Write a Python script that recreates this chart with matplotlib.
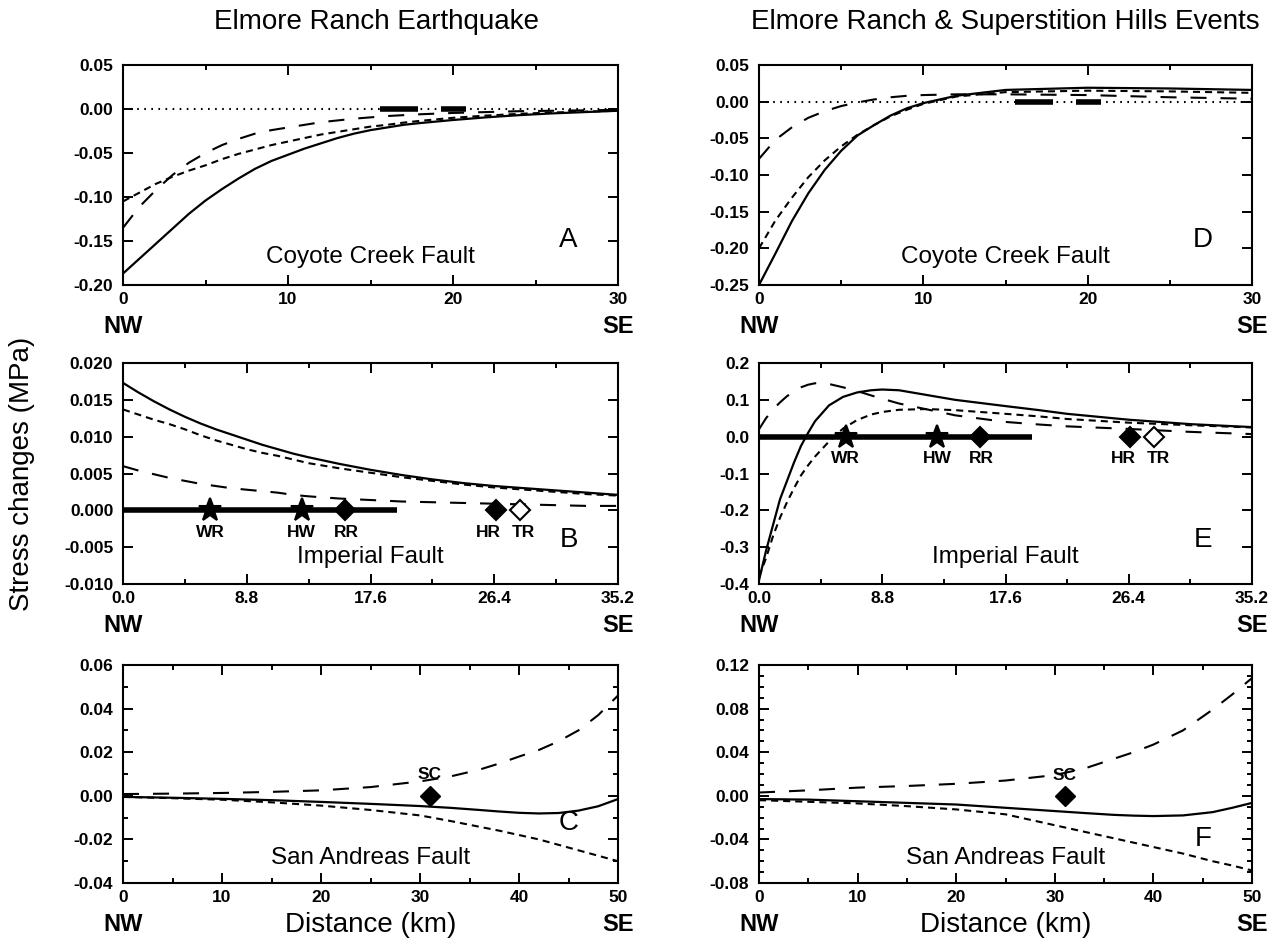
import matplotlib.pyplot as plt
from matplotlib.ticker import MultipleLocator, FormatStrFormatter

plt.rcParams['font.family'] = ['Liberation Sans', 'DejaVu Sans']

# Panel A - Elmore Ranch, Coyote Creek Fault
a_x = [0, 1, 2, 3, 4, 5, 6, 7, 8, 9, 10, 11, 12, 13, 14, 15, 16, 17, 18, 20, 22, 24, 26, 28, 30]
a_solid = [-0.187, -0.170, -0.153, -0.136, -0.119, -0.104, -0.091, -0.079, -0.068, -0.059, -0.052, -0.045,
           -0.039, -0.033, -0.028, -0.024, -0.021, -0.018, -0.016, -0.0125, -0.0095, -0.007, -0.005, -0.0035, -0.002]
a_short = [-0.105, -0.095, -0.085, -0.077, -0.070, -0.064, -0.057, -0.051, -0.046, -0.041, -0.037, -0.033,
           -0.029, -0.026, -0.023, -0.020, -0.018, -0.0155, -0.0135, -0.010, -0.0075, -0.0055, -0.004, -0.003, -0.002]
a_long = [-0.135, -0.111, -0.092, -0.075, -0.061, -0.050, -0.041, -0.034, -0.028, -0.024, -0.021, -0.018,
          -0.015, -0.013, -0.011, -0.0095, -0.008, -0.007, -0.006, -0.0045, -0.0035, -0.0025, -0.002, -0.0015, -0.001]

# Panel D - both events, Coyote Creek Fault
d_x = [0, 1, 2, 3, 4, 5, 6, 7, 8, 9, 10, 12, 15, 20, 25, 30]
d_solid = [-0.250, -0.207, -0.163, -0.125, -0.093, -0.067, -0.046, -0.032, -0.019, -0.009, -0.002, 0.008, 0.016, 0.019, 0.018, 0.016]
d_short = [-0.200, -0.162, -0.131, -0.103, -0.080, -0.061, -0.045, -0.032, -0.020, -0.011, -0.003, 0.007, 0.013, 0.015, 0.014, 0.012]
d_long = [-0.078, -0.052, -0.035, -0.022, -0.013, -0.006, -0.001, 0.003, 0.006, 0.008, 0.009, 0.010, 0.010, 0.009, 0.006, 0.004]

# rupture segments on the Coyote Creek fault
cc_rupture = [(15.6, 17.9), (19.3, 20.8)]

# Panel B - Elmore Ranch, Imperial Fault
b_x = [0, 1.1, 2.2, 3.3, 4.4, 5.5, 6.6, 7.7, 8.8, 9.9, 11, 12.1, 13.2, 15.4, 17.6, 19.8, 22, 24.2, 26.4, 28.6,
       30.8, 33, 35.2]
b_solid = [0.0173, 0.0160, 0.0148, 0.0137, 0.0127, 0.0118, 0.0110, 0.0103, 0.0096, 0.0089, 0.0083, 0.0077,
           0.0072, 0.0063, 0.0055, 0.0048, 0.0042, 0.0037, 0.0033, 0.0030, 0.0027, 0.0024, 0.0021]
b_short = [0.0137, 0.0130, 0.0123, 0.0117, 0.0110, 0.0102, 0.0095, 0.0089, 0.0083, 0.0078, 0.0074, 0.0069,
           0.0064, 0.0057, 0.0051, 0.0045, 0.0040, 0.0035, 0.0031, 0.0028, 0.0025, 0.0022, 0.0020]
b_long = [0.0060, 0.0054, 0.0049, 0.0044, 0.0040, 0.0036, 0.0033, 0.0030, 0.0028, 0.0026, 0.0024, 0.0021,
          0.0019, 0.0016, 0.0014, 0.0012, 0.0011, 0.0010, 0.0009, 0.0008, 0.0007, 0.0006, 0.0006]

# Panel E - both events, Imperial Fault
e_x = [0, 0.5, 1, 1.5, 2, 2.5, 3, 3.5, 4, 5, 6, 7, 8, 8.8, 10, 12, 14, 17.6, 20, 22, 26.4, 30.8, 35.2]
e_solid = [-0.39, -0.31, -0.24, -0.17, -0.12, -0.07, -0.025, 0.01, 0.042, 0.085, 0.108, 0.120, 0.126, 0.128, 0.126,
           0.113, 0.100, 0.083, 0.072, 0.062, 0.046, 0.034, 0.026]
e_short = [-0.38, -0.33, -0.27, -0.22, -0.178, -0.14, -0.105, -0.078, -0.054, -0.013, 0.022, 0.045, 0.060, 0.067, 0.073,
           0.075, 0.072, 0.062, 0.055, 0.048, 0.038, 0.031, 0.025]
e_long = [0.02, 0.05, 0.074, 0.093, 0.110, 0.123, 0.134, 0.141, 0.145, 0.143, 0.134, 0.124, 0.112, 0.103, 0.090,
          0.074, 0.058, 0.040, 0.033, 0.028, 0.021, 0.013, 0.007]

# Imperial fault rupture and sites
imp_rupture = (0, 19.5)
site_names = ['WR', 'HW', 'RR', 'HR', 'TR']
site_x = [6.2, 12.7, 15.8, 26.5, 28.2]
site_label_x = [6.2, 12.7, 15.9, 26.0, 28.5]
site_marker = ['*', '*', 'D', 'D', 'D']
site_filled = [True, True, True, True, False]

# Panel C - Elmore Ranch, San Andreas Fault
c_x = [0, 5, 10, 15, 20, 25, 30, 33, 36, 38, 40, 42, 44, 46, 48, 50]
c_solid = [-0.0005, -0.0009, -0.0014, -0.002, -0.0028, -0.0037, -0.0047, -0.0055, -0.0065, -0.0072, -0.0078,
           -0.0081, -0.0079, -0.0068, -0.0048, -0.0015]
c_short = [-0.0005, -0.0011, -0.0018, -0.003, -0.0045, -0.0065, -0.0090, -0.0115, -0.0142, -0.016, -0.018,
           -0.020, -0.0225, -0.025, -0.0275, -0.030]
c_long = [0.0008, 0.001, 0.0013, 0.0018, 0.0025, 0.004, 0.0066, 0.0088, 0.012, 0.0148, 0.018, 0.021, 0.025,
          0.030, 0.037, 0.046]

# Panel F - both events, San Andreas Fault
f_x = [0, 5, 10, 15, 20, 25, 30, 33, 36, 38, 40, 43, 46, 48, 50]
f_solid = [-0.003, -0.0035, -0.005, -0.0065, -0.008, -0.011, -0.014, -0.0158, -0.0175, -0.0182, -0.0186, -0.018,
           -0.015, -0.011, -0.0065]
f_short = [-0.004, -0.0055, -0.007, -0.0095, -0.0125, -0.017, -0.027, -0.033, -0.039, -0.043, -0.047, -0.053,
           -0.060, -0.064, -0.0685]
f_long = [0.003, 0.005, 0.0075, 0.009, 0.011, 0.014, 0.019, 0.025, 0.034, 0.040, 0.047, 0.060, 0.079, 0.093, 0.108]

sc_x = 31

SHORT = (0, (3.4, 2.4))
LONG = (0, (7.7, 6.7))
DOT = (0, (0.8, 2.6))

fig = plt.figure(figsize=(12.81, 9.44), dpi=100)
W, H = 1281, 944


def make_ax(x0, x1, y0, y1):
    return fig.add_axes([x0 / W, 1 - y1 / H, (x1 - x0) / W, (y1 - y0) / H])


def style(ax, xlim, ylim, xmaj, xmin, ymaj, ymin, xfmt, yfmt):
    ax.set_xlim(*xlim)
    ax.set_ylim(*ylim)
    ax.xaxis.set_major_locator(MultipleLocator(xmaj))
    ax.xaxis.set_minor_locator(MultipleLocator(xmin))
    ax.yaxis.set_major_locator(MultipleLocator(ymaj))
    if ymin:
        ax.yaxis.set_minor_locator(MultipleLocator(ymin))
    ax.xaxis.set_major_formatter(FormatStrFormatter(xfmt))
    ax.yaxis.set_major_formatter(FormatStrFormatter(yfmt))
    ax.tick_params(which='both', direction='in', top=True, right=True, width=1.4)
    ax.tick_params(which='major', length=7, labelsize=12.5)
    ax.tick_params(which='minor', length=3.5)
    ax.tick_params(axis='y', pad=7)
    ax.tick_params(axis='x', pad=5)
    for lab in ax.get_xticklabels() + ax.get_yticklabels():
        lab.set_fontweight('bold')
    for s in ax.spines.values():
        s.set_linewidth(1.5)
    ax.annotate('NW', xy=(0, 0), xycoords='axes fraction', xytext=(0, -30), textcoords='offset points',
                ha='center', va='center', fontsize=17, fontweight='bold')
    ax.annotate('SE', xy=(1, 0), xycoords='axes fraction', xytext=(0, -30), textcoords='offset points',
                ha='center', va='center', fontsize=17, fontweight='bold')


def curves(ax, x, solid, short, long_):
    ax.plot(x, solid, color='black', lw=1.6, ls='-')
    ax.plot(x, short, color='black', lw=1.5, ls=SHORT)
    ax.plot(x, long_, color='black', lw=1.5, ls=LONG)


LX0, LX1 = 123, 618
RX0, RX1 = 759, 1252
rows = [(65, 285), (363, 584), (665, 883)]

axA = make_ax(LX0, LX1, *rows[0])
axD = make_ax(RX0, RX1, *rows[0])
axB = make_ax(LX0, LX1, *rows[1])
axE = make_ax(RX0, RX1, *rows[1])
axC = make_ax(LX0, LX1, *rows[2])
axF = make_ax(RX0, RX1, *rows[2])

# Coyote Creek panels
for ax, x, s, sh, lg, ylim, letter in [(axA, a_x, a_solid, a_short, a_long, (-0.20, 0.05), 'A'),
                                        (axD, d_x, d_solid, d_short, d_long, (-0.25, 0.05), 'D')]:
    style(ax, (0, 30), ylim, 10, 5, 0.05, None, '%d', '%.2f')
    ax.plot([0, 30], [0, 0], color='black', lw=1.5, ls=DOT)
    curves(ax, x, s, sh, lg)
    for seg in cc_rupture:
        ax.plot(seg, [0, 0], color='black', lw=4, solid_capstyle='butt')
    ax.text(15, ylim[0] + 0.125 * (ylim[1] - ylim[0]), 'Coyote Creek Fault', ha='center', va='center', fontsize=17.5)
    ax.text(0.90, 0.205, letter, transform=ax.transAxes, ha='center', va='center', fontsize=20)

# Imperial panels
for ax, x, s, sh, lg, ylim, ymaj, yfmt, lab_y, letter in [
        (axB, b_x, b_solid, b_short, b_long, (-0.010, 0.020), 0.005, '%.3f', -0.003, 'B'),
        (axE, e_x, e_solid, e_short, e_long, (-0.4, 0.2), 0.1, '%.1f', -0.059, 'E')]:
    style(ax, (0, 35.2), ylim, 8.8, 4.4, ymaj, None, '%.1f', yfmt)
    ax.plot(imp_rupture, [0, 0], color='black', lw=4, solid_capstyle='butt')
    curves(ax, x, s, sh, lg)
    for name, sx, lx, mk, filled in zip(site_names, site_x, site_label_x, site_marker, site_filled):
        ms = 17 if mk == '*' else 10
        ax.plot(sx, 0, marker=mk, ms=ms, color='black', mfc='black' if filled else 'white', mew=1.5, zorder=5)
        ax.text(lx, lab_y, name, ha='center', va='center', fontsize=12.5, fontweight='bold')
    ax.text(17.6, ylim[0] + 0.12 * (ylim[1] - ylim[0]), 'Imperial Fault', ha='center', va='center', fontsize=17.5)
    ax.text(0.90, 0.20, letter, transform=ax.transAxes, ha='center', va='center', fontsize=20)

# San Andreas panels
for ax, x, s, sh, lg, ylim, ymaj, ymin, sc_y, letter, ly in [
        (axC, c_x, c_solid, c_short, c_long, (-0.04, 0.06), 0.02, 0.01, 0.0096, 'C', 0.275),
        (axF, f_x, f_solid, f_short, f_long, (-0.08, 0.12), 0.04, 0.01, 0.019, 'F', 0.20)]:
    style(ax, (0, 50), ylim, 10, 5, ymaj, ymin, '%d', '%.2f')
    curves(ax, x, s, sh, lg)
    ax.plot(sc_x, 0, marker='D', ms=10, color='black', zorder=5)
    ax.text(sc_x, sc_y, 'SC', ha='center', va='center', fontsize=12.5, fontweight='bold')
    ax.text(25, ylim[0] + 0.115 * (ylim[1] - ylim[0]), 'San Andreas Fault', ha='center', va='center', fontsize=17.5)
    ax.text(0.90, ly, letter, transform=ax.transAxes, ha='center', va='center', fontsize=20)
    ax.annotate('Distance (km)', xy=(0.5, 0), xycoords='axes fraction', xytext=(0, -30),
                textcoords='offset points', ha='center', va='center', fontsize=20)

fig.text(377 / W, 1 - 22 / H, 'Elmore Ranch Earthquake', ha='center', va='center', fontsize=20)
fig.text(1005 / W, 1 - 22 / H, 'Elmore Ranch & Superstition Hills Events', ha='center', va='center', fontsize=20)
fig.text(22 / W, 1 - 474 / H, 'Stress changes (MPa)', ha='center', va='center', rotation=90, fontsize=20)

fig.savefig('out.png', dpi=100)
